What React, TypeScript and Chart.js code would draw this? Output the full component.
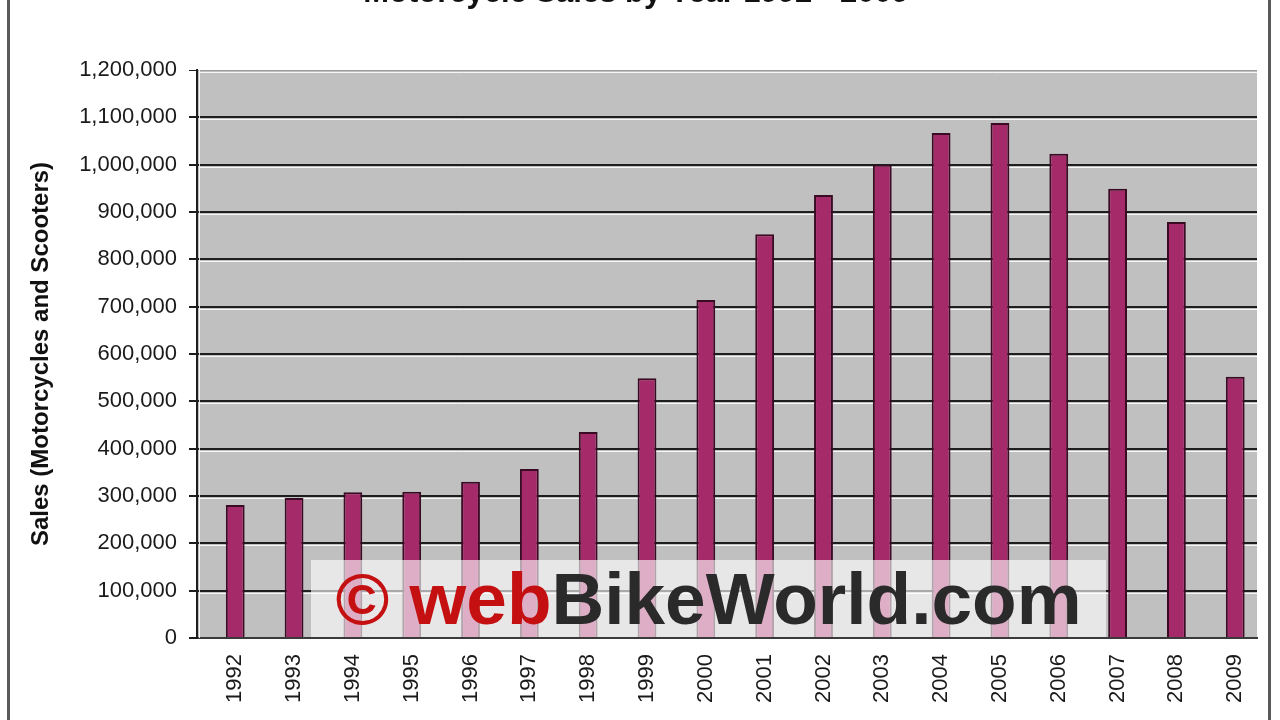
import React, { useEffect, useRef } from "react";
import { Chart, registerables } from "chart.js";

Chart.register(...registerables);

const chartTitle = "Motorcycle Sales by Year 1992 - 2009";
const yAxisTitle = "Sales (Motorcycles and Scooters)";
const years = [
  "1992", "1993", "1994", "1995", "1996", "1997", "1998", "1999", "2000",
  "2001", "2002", "2003", "2004", "2005", "2006", "2007", "2008", "2009",
];
const sales = [
  281000, 296000, 308000, 309000, 330000, 357000, 435000, 549000, 714000,
  853000, 936000, 1000000, 1067000, 1088000, 1023000, 949000, 879000, 552000,
];
const yMin = 0;
const yMax = 1200000;
const yStep = 100000;

const FONT = "'Liberation Sans', Arial, Helvetica, sans-serif";

const plotDecor = {
  id: "plotDecor",
  beforeDraw(chart: any) {
    const { ctx, chartArea } = chart;
    if (!chartArea) return;
    ctx.save();
    ctx.fillStyle = "#c0c0c0";
    ctx.fillRect(chartArea.left, chartArea.top, chartArea.right - chartArea.left, chartArea.bottom - chartArea.top);
    ctx.restore();
  },
  beforeDatasetsDraw(chart: any) {
    const { ctx, chartArea, scales } = chart;
    const y = scales.y;
    ctx.save();
    ctx.strokeStyle = "rgba(255,255,255,0.85)";
    ctx.lineWidth = 1;
    y.ticks.forEach((t: any) => {
      if (t.value === yMin) return;
      const py = Math.round(y.getPixelForValue(t.value)) + 2.5;
      ctx.beginPath();
      ctx.moveTo(chartArea.left + 2, py);
      ctx.lineTo(chartArea.right, py);
      ctx.stroke();
    });
    ctx.beginPath();
    ctx.moveTo(chartArea.left + 2.5, chartArea.top);
    ctx.lineTo(chartArea.left + 2.5, chartArea.bottom);
    ctx.stroke();
    ctx.restore();
  },
};

export default function App() {
  const ref = useRef<HTMLCanvasElement | null>(null);

  useEffect(() => {
    if (!ref.current) return;
    const points = years.map((_, i) => ({ x: i, y: sales[i] }));
    const chart = new Chart(ref.current, {
      type: "bar",
      data: {
        datasets: [
          {
            label: "Sales",
            data: points as any,
            backgroundColor: "#a52a6a",
            borderColor: "#3a0c24",
            borderWidth: 2,
            barPercentage: 0.32,
            categoryPercentage: 1,
          },
        ],
      },
      options: {
        animation: false,
        responsive: true,
        maintainAspectRatio: false,
        layout: { padding: { left: 23, right: 23, top: 70, bottom: 0 } },
        plugins: {
          legend: { display: false },
          tooltip: { enabled: false },
          title: { display: false },
        },
        scales: {
          x: {
            type: "linear",
            min: -0.65,
            max: 17.37,
            offset: false,
            afterFit(scale: any) {
              scale.height = 82;
            },
            afterBuildTicks(scale: any) {
              scale.ticks = years.map((_, i) => ({ value: i }));
            },
            grid: { display: false, drawTicks: false },
            border: { display: true, color: "#3a3a3a", width: 2 },
            ticks: {
              autoSkip: false,
              minRotation: 90,
              maxRotation: 90,
              padding: 16,
              color: "#1a1a1a",
              font: { family: FONT, size: 22 },
              callback: (v: any) => years[Math.round(Number(v))] ?? "",
            },
          },
          y: {
            min: yMin,
            max: yMax,
            afterFit(scale: any) {
              scale.width = 174;
            },
            grid: {
              color: (c: any) => (c.tick && c.tick.value === yMax ? "#9a9a9a" : "#1e1e1e"),
              lineWidth: (c: any) => (c.tick && c.tick.value === yMax ? 1 : 2),
              drawTicks: true,
              tickLength: 8,
              tickColor: "#1e1e1e",
            },
            border: { display: true, color: "#1e1e1e", width: 2 },
            ticks: {
              stepSize: yStep,
              padding: 12,
              color: "#1a1a1a",
              font: { family: FONT, size: 22 },
              callback: (v: any) => Number(v).toLocaleString("en-US"),
            },
            title: {
              display: true,
              text: yAxisTitle,
              color: "#111",
              font: { family: FONT, size: 24, weight: "bold" },
            },
          },
        },
      },
      plugins: [plotDecor],
    });
    return () => chart.destroy();
  }, []);

  return (
    <div
      style={{
        position: "fixed",
        left: 0,
        top: 0,
        width: 1280,
        height: 720,
        background: "#fff",
        overflow: "hidden",
      }}
    >
      <canvas ref={ref} style={{ position: "absolute", left: 0, top: 0, width: 1280, height: 720 }} />
      <div
        style={{
          position: "absolute",
          left: 0,
          width: 1272,
          top: -24,
          textAlign: "center",
          fontFamily: FONT,
          fontWeight: "bold",
          fontSize: 31,
          lineHeight: 1,
          color: "#111",
        }}
      >
        {chartTitle}
      </div>
      <div style={{ position: "absolute", left: 7, top: 0, width: 3, height: 720, background: "#5a5a5a" }} />
      <div style={{ position: "absolute", left: 1268, top: 0, width: 3, height: 720, background: "#5a5a5a" }} />
      <div
        style={{
          position: "absolute",
          left: 311,
          top: 560,
          width: 795,
          height: 77,
          background: "rgba(255,255,255,0.62)",
          display: "flex",
          alignItems: "center",
          justifyContent: "center",
          fontFamily: FONT,
          fontWeight: "bold",
          fontSize: 73,
          lineHeight: 1,
          whiteSpace: "nowrap",
        }}
      >
        <span style={{ color: "#c41010" }}>©&nbsp;web</span>
        <span style={{ color: "#2a2a2a" }}>BikeWorld.com</span>
      </div>
    </div>
  );
}
